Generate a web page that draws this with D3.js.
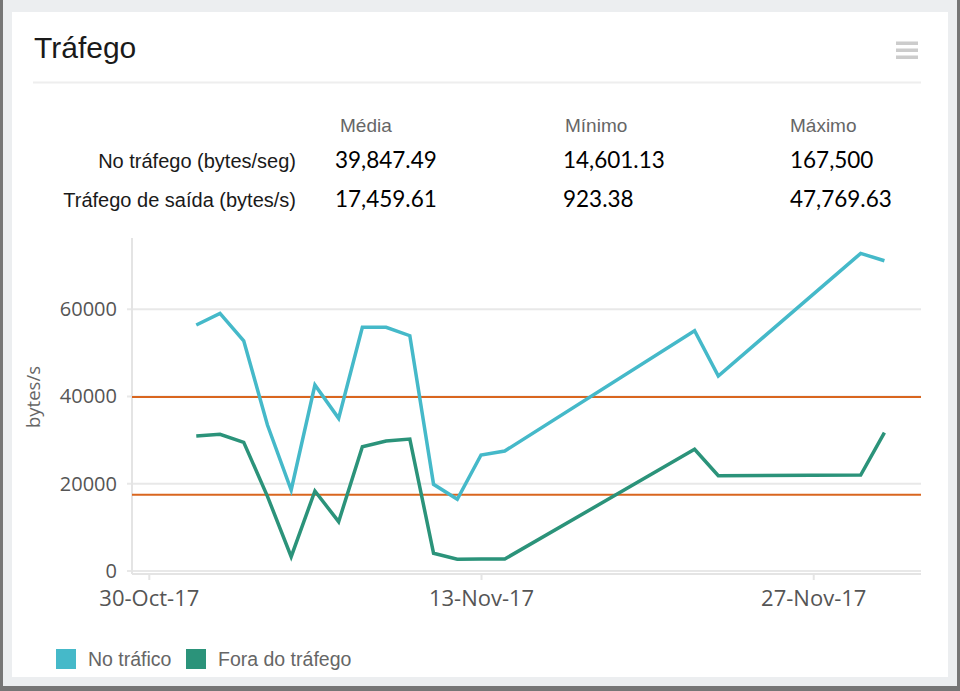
<!DOCTYPE html>
<html><head><meta charset="utf-8">
<script src="https://cdn.jsdelivr.net/npm/d3@7"></script>
<style>
html,body{margin:0;padding:0;background:#fff;}
svg{display:block;}
</style></head>
<body>
<svg id="chart" width="960" height="691"></svg>
<script>
// ---- data ----
const dates = ["2017-11-01","2017-11-02","2017-11-03","2017-11-04","2017-11-05","2017-11-06","2017-11-07","2017-11-08","2017-11-09","2017-11-10","2017-11-11","2017-11-12","2017-11-13","2017-11-14","2017-11-22","2017-11-23","2017-11-29","2017-11-30"];
const inbound = [56360,59040,52760,33450,18560,42610,34980,55830,55830,53910,19860,16430,26580,27490,55050,44670,72780,71090];
const outbound = [30930,31320,29490,17100,3280,18330,11300,28480,29780,30240,4060,2680,2750,2750,27880,21830,21990,31690];
const seriesNames = ["No tráfico","Fora do tráfego"];
const seriesColors = ["#45b9c9","#2b937a"];
const averages = [39847.49, 17459.61];
const statHeaders = ["Média","Mínimo","Máximo"];
const statRows = ["No tráfego (bytes/seg)","Tráfego de saída (bytes/s)"];
const statValues = [["39,847.49","14,601.13","167,500"],["17,459.61","923.38","47,769.63"]];
const yTicks = [0,20000,40000,60000];
const xTicks = ["2017-10-30","2017-11-13","2017-11-27"];
const title = "Tráfego";
const yLabel = "bytes/s";

const parse = d3.timeParse("%Y-%m-%d");
const svg = d3.select("#chart");

// background / card
svg.append("rect").attr("x",0).attr("y",0).attr("width",960).attr("height",691).attr("fill","#767676");
svg.append("rect").attr("x",3).attr("y",0).attr("width",954).attr("height",686).attr("fill","#eceef0");
svg.append("rect").attr("x",12).attr("y",12).attr("width",936).attr("height",665).attr("fill","#fff");

// title
svg.append("text").attr("x",34).attr("y",58).text(title)
  .attr("font-family","'Liberation Sans',Arial,sans-serif").attr("font-size",30).attr("fill","#1a1a1a");
// hamburger
[0,1,2].forEach(i=>svg.append("rect").attr("x",896).attr("y",41.5+i*7).attr("width",22).attr("height",3.5).attr("fill","#cccccc"));
// separator
svg.append("rect").attr("x",33).attr("y",81.5).attr("width",888).attr("height",2).attr("fill","#eeeeee");

// stats table
const colX = [335,563,790];
const headX = [340,565,790];
statHeaders.forEach((h,i)=>svg.append("text").attr("x",headX[i]).attr("y",132).text(h)
  .attr("font-family","'Liberation Sans',Arial,sans-serif").attr("font-size",19).attr("fill","#666"));
statRows.forEach((r,j)=>{
  const y = 168 + j*39;
  svg.append("text").attr("x",296).attr("y",y).attr("text-anchor","end").text(r)
    .attr("font-family","'Liberation Sans',Arial,sans-serif").attr("font-size",20).attr("fill","#1a1a1a");
  statValues[j].forEach((v,i)=>svg.append("text").attr("x",colX[i]).attr("y",y).text(v)
    .attr("font-family","Lato,sans-serif").attr("font-size",22.5).attr("fill","#000"));
});

// scales
const x0 = parse(xTicks[0]);
const x = d3.scaleTime()
  .domain([d3.timeHour.offset(x0,-16.8), d3.timeHour.offset(x0, 32.58*24)])
  .range([132,921]);
const y = d3.scaleLinear().domain([0,76300]).range([571,238]);

const axisColor = "#e4e4e4";
// gridlines
const g = svg.append("g");
g.selectAll("line.grid").data(yTicks).join("line")
  .attr("x1",127).attr("x2",921).attr("y1",d=>y(d)).attr("y2",d=>y(d))
  .attr("stroke","#e8e8e8").attr("stroke-width",2);

// y axis
const yAxis = svg.append("g").attr("transform","translate(132,0)")
  .call(d3.axisLeft(y).tickValues(yTicks).tickSize(0).tickPadding(15).tickFormat(d3.format("d")));
yAxis.select(".domain").remove();
yAxis.selectAll("text").attr("font-family","'Open Sans',sans-serif").attr("font-size",20).attr("fill","#555");
svg.append("line").attr("x1",132).attr("x2",132).attr("y1",238).attr("y2",574).attr("stroke",axisColor).attr("stroke-width",2);

// x axis
const xAxis = svg.append("g").attr("transform","translate(0,574)")
  .call(d3.axisBottom(x).tickValues(xTicks.map(parse)).tickSize(6).tickPadding(10).tickFormat(d3.timeFormat("%d-%b-%y")));
xAxis.select(".domain").attr("stroke",axisColor).attr("stroke-width",2).attr("d","M132,0H921");
xAxis.selectAll(".tick line").attr("stroke",axisColor).attr("stroke-width",2);
xAxis.selectAll("text").attr("font-family","'Open Sans',sans-serif").attr("font-size",22).attr("fill","#555");

// y label
svg.append("text").attr("transform","translate(40,397) rotate(-90)").attr("text-anchor","middle").text(yLabel)
  .attr("font-family","'Open Sans',sans-serif").attr("font-size",18.5).attr("fill","#666");

// average lines
svg.selectAll("line.avg").data(averages).join("line")
  .attr("x1",132).attr("x2",921).attr("y1",d=>y(d)).attr("y2",d=>y(d))
  .attr("stroke","#d9661f").attr("stroke-width",2);

// series
const line = d3.line().x(d=>x(d.date)).y(d=>y(d.v));
[inbound,outbound].forEach((vals,k)=>{
  const data = dates.map((d,i)=>({date:parse(d),v:vals[i]}));
  svg.append("path").datum(data).attr("d",line).attr("fill","none")
    .attr("stroke",seriesColors[k]).attr("stroke-width",3.5).attr("stroke-linejoin","miter");
});

// legend
const legX = [56,186];
seriesNames.forEach((n,i)=>{
  svg.append("rect").attr("x",legX[i]).attr("y",649).attr("width",20).attr("height",20).attr("fill",seriesColors[i]);
  svg.append("text").attr("x",legX[i]+32).attr("y",666).text(n)
    .attr("font-family","'Liberation Sans',Arial,sans-serif").attr("font-size",19.5).attr("fill","#666");
});
</script>
</body></html>
